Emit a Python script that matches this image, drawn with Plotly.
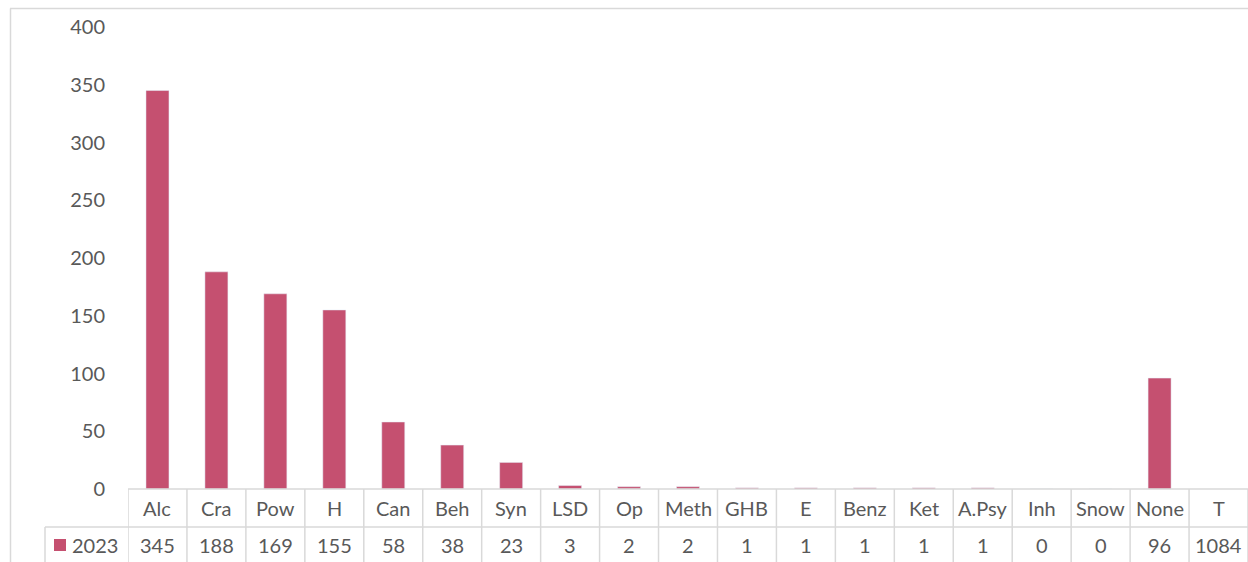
"""Bar chart with an Excel-style data table underneath."""

import plotly.graph_objects as go

categories = ["Alc", "Cra", "Pow", "H", "Can", "Beh", "Syn", "LSD", "Op", "Meth",
              "GHB", "E", "Benz", "Ket", "A.Psy", "Inh", "Snow", "None", "T"]
counts_2023 = [345, 188, 169, 155, 58, 38, 23, 3, 2, 2, 1, 1, 1, 1, 1, 0, 0, 96, 1084]
series_name = "2023"
y_ticks = [0, 50, 100, 150, 200, 250, 300, 350, 400]

BAR = "#C55070"
TEXT = "#595959"
GRID = "#D9D9D9"
FONT = "Lato"
FS = 20

# the total column ("T") is only listed in the table, it has no bar
bar_values = [None if c == "T" else v for c, v in zip(categories, counts_2023)]

W, H = 1248, 562
L, R, T, B = 128, 0, 27, 73
pw, ph = W - L - R, H - T - B


def px_x(x):
    return (x - L) / pw


def px_y(y):
    return (H - B - y) / ph


fig = go.Figure(go.Bar(x=categories, y=bar_values, marker_color=BAR, name=series_name))

shapes = []
# outer chart border (top and left edges visible)
shapes.append(dict(type="line", xref="paper", yref="paper", x0=px_x(10), x1=px_x(W + 5),
                   y0=px_y(8.5), y1=px_y(8.5), line=dict(color=GRID, width=1.5)))
shapes.append(dict(type="line", xref="paper", yref="paper", x0=px_x(10.5), x1=px_x(10.5),
                   y0=px_y(8.5), y1=px_y(H + 5), line=dict(color=GRID, width=1.5)))
# data table grid
shapes.append(dict(type="line", xref="paper", yref="paper", x0=0, x1=1.01,
                   y0=0, y1=0, line=dict(color=GRID, width=1.5)))
shapes.append(dict(type="line", xref="paper", yref="paper", x0=px_x(45), x1=1.01,
                   y0=px_y(527), y1=px_y(527), line=dict(color=GRID, width=1.5)))
shapes.append(dict(type="line", xref="paper", yref="paper", x0=px_x(45), x1=px_x(45),
                   y0=px_y(527), y1=px_y(H + 5), line=dict(color=GRID, width=1.5)))
for i in range(len(categories) + 1):
    shapes.append(dict(type="line", xref="x", yref="paper", x0=i - 0.5, x1=i - 0.5,
                       y0=0, y1=px_y(H + 5), line=dict(color=GRID, width=1.5)))
# legend key in the table
shapes.append(dict(type="rect", xref="paper", yref="paper", x0=px_x(54), x1=px_x(66),
                   y0=px_y(551), y1=px_y(539), fillcolor=BAR, line=dict(width=0)))

annotations = []
for c, v in zip(categories, counts_2023):
    annotations.append(dict(x=c, xref="x", y=px_y(508), yref="paper", text=c,
                            showarrow=False, xanchor="center", yanchor="middle",
                            font=dict(family=FONT, size=FS, color=TEXT)))
    annotations.append(dict(x=c, xref="x", y=px_y(545), yref="paper", text=str(v),
                            showarrow=False, xanchor="center", yanchor="middle",
                            font=dict(family=FONT, size=FS, color=TEXT)))
annotations.append(dict(x=px_x(95), xref="paper", y=px_y(545), yref="paper", text=series_name,
                        showarrow=False, xanchor="center", yanchor="middle",
                        font=dict(family=FONT, size=FS, color=TEXT)))

fig.update_layout(
    width=W,
    height=H,
    margin=dict(l=L, r=R, t=T, b=B),
    paper_bgcolor="white",
    plot_bgcolor="white",
    showlegend=False,
    bargap=0.61,
    font=dict(family=FONT, size=FS, color=TEXT),
    shapes=shapes,
    annotations=annotations,
)
fig.update_xaxes(showticklabels=False, showgrid=False, zeroline=False, showline=False,
                 range=[-0.5, len(categories) - 0.5])
fig.update_yaxes(range=[0, 400], tickvals=y_ticks, showgrid=False, zeroline=False,
                 showline=False, ticklabelstandoff=22)

# drop the default body margin so the figure fills the window exactly
fig.write_html("out.html", config={"displayModeBar": False},
               post_script="document.body.style.margin = '0';")
